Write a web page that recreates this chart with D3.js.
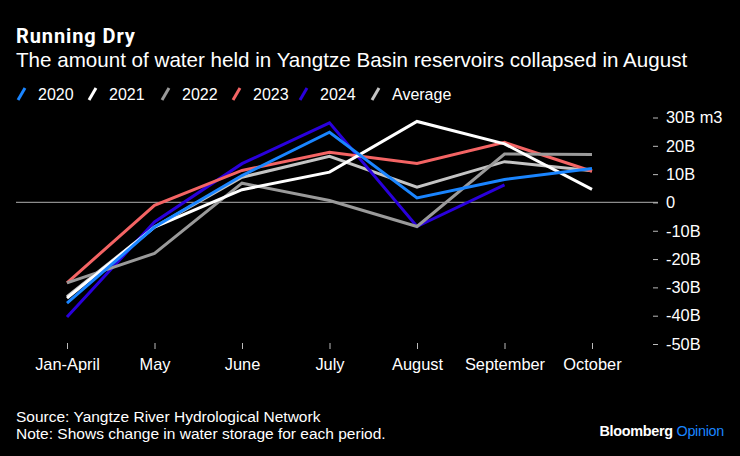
<!DOCTYPE html>
<html>
<head>
<meta charset="utf-8">
<script src="https://cdn.jsdelivr.net/npm/d3@7"></script>
<style>
  html, body { margin: 0; padding: 0; background: #000; }
  svg { display: block; font-family: "Liberation Sans", Arial, sans-serif; }
</style>
</head>
<body>
<svg id="chart" width="740" height="456"></svg>
<script>
const categories = ["Jan-April", "May", "June", "July", "August", "September", "October"];
const s2020 = [-35.6, -8.7, 9.5, 24.8, 1.6, 8.1, 12.0];
const s2021 = [-33.8, -8.7, 4.5, 10.7, 28.6, 20.7, 4.6];
const s2022 = [-28.4, -18.0, 6.8, 0.7, -8.5, 17.1, 16.9];
const s2023 = [-28.4, -1.0, 11.3, 17.7, 13.8, 21.2, 11.0];
const s2024 = [-40.5, -6.9, 13.7, 28.1, -8.5, 6.2];
const sAverage = [-33.3, -8.7, 8.9, 16.3, 5.4, 14.4, 11.2];
const yTicks = [30, 20, 10, 0, -10, -20, -30, -40, -50];
const yTickLabels = ["30B m3", "20B", "10B", "0", "-10B", "-20B", "-30B", "-40B", "-50B"];
const seriesNames = ["2020", "2021", "2022", "2023", "2024", "Average"];
const seriesColors = ["#1a85ff", "#ffffff", "#9a9a9a", "#f46464", "#2a00dc", "#c4c4c4"];

const seriesData = [s2020, s2021, s2022, s2023, s2024, sAverage];
const series = seriesNames.map((n, i) => ({ name: n, color: seriesColors[i], values: seriesData[i] }));

const svg = d3.select("#chart");
svg.append("rect").attr("width", 740).attr("height", 456).attr("fill", "#000");

// Titles
svg.append("text").attr("x", 16).attr("y", 42.5).attr("fill", "#fff")
  .attr("font-family", "Roboto, 'Liberation Sans', sans-serif")
  .attr("font-size", 20).attr("font-weight", "bold").attr("letter-spacing", 0.9).text("Running Dry");
svg.append("text").attr("x", 16).attr("y", 67).attr("fill", "#fff")
  .attr("font-size", 20.6).text("The amount of water held in Yangtze Basin reservoirs collapsed in August");

// Legend
const legendX = [18, 89, 162, 233, 300, 372];
const lg = svg.append("g");
series.forEach((s, i) => {
  const g = lg.append("g").attr("transform", `translate(${legendX[i]},94)`);
  g.append("line").attr("x1", 0).attr("y1", 6).attr("x2", 7).attr("y2", -6)
    .attr("stroke", s.color).attr("stroke-width", 3);
  g.append("text").attr("x", 20).attr("y", 6).attr("fill", "#fff")
    .attr("font-size", 16).text(s.name);
});

// Scales
const x = d3.scalePoint().domain(categories).range([67, 592]);
const y = d3.scaleLinear().domain([-50, 30]).range([344, 117.5]);

// Zero line
svg.append("line").attr("x1", 16).attr("x2", 658).attr("y1", y(0)).attr("y2", y(0))
  .attr("stroke", "#8c8c8c").attr("stroke-width", 1.2);

// Y axis
const yAxis = d3.axisRight(y).tickValues(yTicks).tickSize(5).tickPadding(8)
  .tickFormat((d, i) => yTickLabels[i]);
const yg = svg.append("g").attr("transform", "translate(653,0)").call(yAxis);
yg.select(".domain").remove();
yg.selectAll(".tick line").attr("stroke", "#bbb");
yg.selectAll(".tick text").attr("fill", "#fff").attr("font-size", 16.4)
  .attr("font-family", "Liberation Sans, Arial, sans-serif");

// X axis
const xAxis = d3.axisBottom(x).tickSize(6).tickPadding(9);
const xg = svg.append("g").attr("transform", "translate(0,343)").call(xAxis);
xg.select(".domain").remove();
xg.selectAll(".tick line").attr("stroke", "#bbb");
xg.selectAll(".tick text").attr("fill", "#fff").attr("font-size", 16.4)
  .attr("font-family", "Liberation Sans, Arial, sans-serif");

// Lines
const line = d3.line().x((d, i) => x(categories[i])).y(d => y(d));
const drawOrder = ["Average", "2024", "2023", "2022", "2021", "2020"];
drawOrder.forEach(n => {
  const s = series.find(t => t.name === n);
  svg.append("path").datum(s.values).attr("d", line)
    .attr("fill", "none").attr("stroke", s.color).attr("stroke-width", 3)
    .attr("stroke-linejoin", "miter");
});

// Footer
svg.append("text").attr("x", 16).attr("y", 422).attr("fill", "#fff").attr("font-size", 15.5)
  .text("Source: Yangtze River Hydrological Network");
svg.append("text").attr("x", 16).attr("y", 439).attr("fill", "#fff").attr("font-size", 15.5)
  .text("Note: Shows change in water storage for each period.");
const brand = svg.append("text").attr("x", 724).attr("y", 436).attr("text-anchor", "end")
  .attr("font-size", 14.4).attr("font-weight", "bold").attr("letter-spacing", -0.3);
brand.append("tspan").attr("fill", "#fff").text("Bloomberg ");
brand.append("tspan").attr("fill", "#1a85ff").attr("font-weight", "normal").text("Opinion");
</script>
</body>
</html>
